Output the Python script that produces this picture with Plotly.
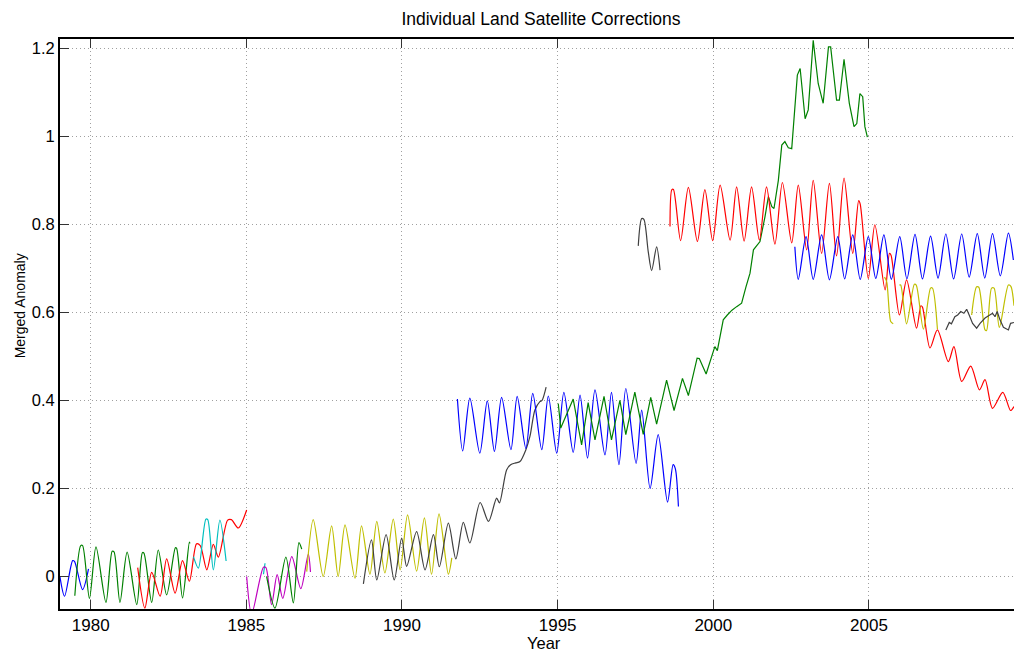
import plotly.graph_objects as go

# ---------------- data ----------------
blue1_x = [1979.01, 1979.16, 1979.42, 1979.48, 1979.74, 1979.93]
blue1_y = [0.0, -0.045, 0.036, 0.034, -0.03, 0.017]

green1_x = [1979.49, 1979.68, 1979.74, 1979.96, 1980.17, 1980.49, 1980.69, 1980.75, 1980.94,
            1981.17, 1981.48, 1981.66, 1981.71, 1981.96, 1982.17, 1982.44, 1982.72, 1982.76,
            1982.95, 1983.17, 1983.19]
green1_y = [-0.044, 0.07, 0.07, -0.05, 0.067, -0.059, 0.057, 0.056, -0.059,
            0.055, -0.064, 0.054, 0.053, -0.059, 0.06, -0.042, 0.065, 0.064,
            -0.049, 0.078, 0.075]

red1_x = [1981.51, 1981.74, 1981.96, 1982.23, 1982.44, 1982.71, 1982.95, 1983.17, 1983.40,
          1983.52, 1983.73, 1983.94, 1984.10, 1984.40, 1984.52, 1984.74, 1985.01]
red1_y = [0.02, -0.072, 0.009, -0.045, 0.04, -0.038, 0.036, -0.011, 0.074,
          0.07, 0.015, 0.073, 0.044, 0.128, 0.129, 0.11, 0.151]

cyan1_x = [1983.30, 1983.46, 1983.70, 1983.76, 1983.94, 1984.15, 1984.35, None, 1985.55, 1985.60]
cyan1_y = [0.045, 0.019, 0.13, 0.129, 0.015, 0.128, 0.035, None, 0.005, 0.03]

magenta_x = [1985.01, 1985.17, 1985.55, 1985.63, 1985.81, 1985.99, 1986.17, 1986.46,
             1986.75, 1986.99, 1987.06]
magenta_y = [0.0, -0.085, 0.021, 0.02, -0.064, 0.004, -0.05, 0.045,
             -0.028, 0.051, 0.01]

green2_x = [1985.65, 1985.92, 1986.27, 1986.51, 1986.69, 1986.78]
green2_y = [0.0, -0.072, 0.044, -0.06, 0.077, 0.062]

yellow1_x = [1986.94, 1987.15, 1987.47, 1987.74, 1987.95, 1988.17, 1988.49, 1988.70, 1988.97,
             1989.19, 1989.45, 1989.72, 1989.94, 1990.18, 1990.47, 1990.72, 1990.95, 1991.19,
             1991.49, 1991.60]
yellow1_y = [0.011, 0.129, 0.0, 0.115, 0.0, 0.117, -0.004, 0.115, 0.005,
             0.125, 0.008, 0.13, 0.015, 0.14, 0.012, 0.133, 0.005, 0.142,
             0.005, 0.042]

black1_x = [1988.76, 1989.02, 1989.19, 1989.49, 1989.75, 1989.99, 1990.15, 1990.47, 1990.74,
            1991.01, 1991.20, 1991.49, 1991.73, 1991.97, 1992.18, 1992.51, 1992.78, 1993.04,
            1993.13, 1993.36, 1993.49, 1993.65, 1993.79, 1993.98, 1994.11, 1994.27, 1994.43,
            1994.50, 1994.63]
black1_y = [-0.017, 0.083, -0.008, 0.095, -0.008, 0.087, 0.023, 0.102, 0.015,
            0.095, 0.022, 0.121, 0.04, 0.123, 0.076, 0.168, 0.125, 0.178,
            0.167, 0.242, 0.254, 0.258, 0.261, 0.288, 0.318, 0.378, 0.397,
            0.40, 0.43]

blue2_x = [1991.78, 1991.95, 1992.18, 1992.50, 1992.74, 1992.97, 1993.20, 1993.50, 1993.70,
           1993.98, 1994.20, 1994.49, 1994.70, 1994.97, 1995.20, 1995.50, 1995.72, 1995.96,
           1996.20, 1996.52, 1996.73, 1996.97, 1997.19, 1997.52, 1997.70, 1997.97, 1998.23,
           1998.53, 1998.71, 1998.78, 1998.88]
blue2_y = [0.403, 0.285, 0.405, 0.28, 0.399, 0.284, 0.407, 0.288, 0.409,
           0.291, 0.416, 0.288, 0.41, 0.28, 0.418, 0.282, 0.412, 0.269,
           0.424, 0.276, 0.418, 0.254, 0.427, 0.257, 0.378, 0.2, 0.322,
           0.169, 0.254, 0.245, 0.159]

green3_x = [1995.02, 1995.10, 1995.50, 1995.77, 1995.98, 1996.20, 1996.49, 1996.73, 1997.00,
            1997.19, 1997.48, 1997.75, 1997.99, 1998.18, 1998.50, 1998.74, 1999.01, 1999.20,
            1999.48, 1999.55, 1999.77, 2000.05, 2000.13, 2000.32, 2000.45, 2000.60, 2000.75,
            2000.91, 2001.05, 2001.18, 2001.29, 2001.50, 2001.66, 2001.77, 2001.88, 2001.95,
            2002.09, 2002.20, 2002.30, 2002.41, 2002.52, 2002.70, 2002.79, 2002.95, 2003.05,
            2003.21, 2003.37, 2003.53, 2003.70, 2003.77, 2003.96, 2004.05, 2004.20, 2004.37,
            2004.52, 2004.61, 2004.71, 2004.80, 2004.87, 2004.95]
green3_y = [0.393, 0.337, 0.403, 0.299, 0.395, 0.31, 0.409, 0.31, 0.40,
            0.322, 0.419, 0.323, 0.407, 0.346, 0.446, 0.377, 0.45, 0.411,
            0.496, 0.495, 0.46, 0.522, 0.513, 0.583, 0.594, 0.605, 0.613,
            0.621, 0.658, 0.689, 0.742, 0.761, 0.817, 0.863, 0.84, 0.836,
            0.9, 0.98, 0.988, 0.974, 0.972, 1.139, 1.154, 1.04, 1.06,
            1.218, 1.12, 1.075, 1.203, 1.203, 1.082, 1.082, 1.175, 1.075,
            1.022, 1.029, 1.097, 1.09, 1.022, 0.998]

black2_x = [1997.59, 1997.70, 1997.77, 1997.91, 1998.02, 1998.18, 1998.29]
black2_y = [0.751, 0.813, 0.811, 0.738, 0.695, 0.749, 0.696]

red2_x = [1998.61, 1998.67, 1998.72, 1998.95, 1999.20, 1999.49, 1999.73, 1999.98, 2000.22,
          2000.54, 2000.75, 2000.99, 2001.23, 2001.48, 2001.71, 2001.98, 2002.22, 2002.52,
          2002.73, 2003.00, 2003.21, 2003.48, 2003.73, 2003.96, 2004.20, 2004.48, 2004.67,
          2004.72, 2004.98, 2005.19, 2005.52, 2005.66, 2005.71, 2005.98, 2006.21, 2006.53,
          2006.67, 2006.72, 2006.96, 2007.20, 2007.55, 2007.73, 2007.98, 2008.27, 2008.55,
          2008.73, 2008.97, 2009.30, 2009.55, 2009.66]
red2_y = [0.795, 0.879, 0.879, 0.763, 0.884, 0.761, 0.879, 0.763, 0.889,
          0.764, 0.885, 0.762, 0.885, 0.764, 0.885, 0.755, 0.895, 0.758,
          0.889, 0.742, 0.9, 0.734, 0.893, 0.728, 0.905, 0.734, 0.854,
          0.846, 0.677, 0.799, 0.651, 0.734, 0.73, 0.594, 0.674, 0.564,
          0.615, 0.612, 0.519, 0.56, 0.488, 0.522, 0.443, 0.478, 0.424,
          0.447, 0.382, 0.418, 0.377, 0.386]

blue3_x = [2002.62, 2002.73, 2002.98, 2003.21, 2003.48, 2003.73, 2004.00, 2004.22, 2004.48,
           2004.72, 2004.98, 2005.22, 2005.48, 2005.72, 2005.99, 2006.22, 2006.48, 2006.72,
           2006.98, 2007.22, 2007.47, 2007.72, 2007.98, 2008.22, 2008.48, 2008.72, 2008.97,
           2009.22, 2009.48, 2009.64]
blue3_y = [0.749, 0.675, 0.772, 0.675, 0.776, 0.674, 0.772, 0.676, 0.776,
           0.675, 0.772, 0.677, 0.776, 0.675, 0.772, 0.676, 0.777, 0.676,
           0.773, 0.678, 0.778, 0.676, 0.778, 0.68, 0.779, 0.678, 0.779,
           0.683, 0.78, 0.719]

yellow2_x = [2005.50, 2005.57, 2005.70, 2005.78, None,
             2005.98, 2006.02, 2006.21, 2006.46, 2006.52, 2006.75, 2006.98, 2007.04, 2007.20, None,
             2008.30, 2008.46, 2008.53, 2008.73, 2008.78, 2008.94, 2009.02, 2009.19, 2009.48,
             2009.56, 2009.66]
yellow2_y = [0.68, 0.67, 0.579, 0.574, None,
             0.662, 0.662, 0.574, 0.664, 0.662, 0.562, 0.655, 0.655, 0.562, None,
             0.594, 0.658, 0.657, 0.56, 0.559, 0.655, 0.655, 0.566, 0.662,
             0.659, 0.615]

black3_x = [2007.47, 2007.58, 2007.65, 2007.76, 2007.85, 2007.95, 2008.05, 2008.14, 2008.22,
            2008.33, 2008.46, 2008.57, 2008.73, 2008.87, 2008.97, 2009.05, 2009.12, 2009.21,
            2009.32, 2009.48, 2009.55, 2009.66]
black3_y = [0.56, 0.577, 0.574, 0.59, 0.594, 0.602, 0.598, 0.607, 0.594,
            0.575, 0.564, 0.575, 0.587, 0.594, 0.598, 0.59, 0.602, 0.583,
            0.566, 0.56, 0.575, 0.577]

x_ticks = [1980, 1985, 1990, 1995, 2000, 2005]
y_ticks = [0, 0.2, 0.4, 0.6, 0.8, 1.0, 1.2]
y_tick_labels = ["0", "0.2", "0.4", "0.6", "0.8", "1", "1.2"]

# ---------------- styling ----------------
B, G, R, C, M, Y, K = "#0000FF", "#008000", "#FF0000", "#00BFBF", "#BF00BF", "#BFBF00", "#404040"

series = [
    (blue1_x, blue1_y, B, "spline"),
    (green1_x, green1_y, G, "spline"),
    (red1_x, red1_y, R, "spline"),
    (cyan1_x, cyan1_y, C, "spline"),
    (magenta_x, magenta_y, M, "spline"),
    (green2_x, green2_y, G, "spline"),
    (yellow1_x, yellow1_y, Y, "spline"),
    (black1_x, black1_y, K, "spline"),
    (blue2_x, blue2_y, B, "spline"),
    (green3_x, green3_y, G, "linear"),
    (black2_x, black2_y, K, "spline"),
    (red2_x, red2_y, R, "spline"),
    (blue3_x, blue3_y, B, "spline"),
    (yellow2_x, yellow2_y, Y, "spline"),
    (black3_x, black3_y, K, "linear"),
]

fig = go.Figure()
for xs, ys, col, shape in series:
    fig.add_trace(go.Scatter(
        x=xs, y=ys, mode="lines",
        line=dict(color=col, width=1.2, shape=shape, smoothing=0.8),
        connectgaps=False, hoverinfo="skip", showlegend=False))

FONT = "Liberation Sans, Arial, Helvetica, sans-serif"

fig.update_layout(
    width=1014, height=654,
    margin=dict(l=60, r=0, t=39, b=45),
    paper_bgcolor="white", plot_bgcolor="white",
    font=dict(family=FONT, size=16, color="black"),
    showlegend=False,
    title=dict(text="Individual Land Satellite Corrections",
               x=541 / 1014, xref="container", xanchor="center",
               y=1 - 19 / 654, yref="container", yanchor="middle",
               font=dict(family=FONT, size=17.5, color="black")),
    xaxis=dict(range=[1979.014, 2009.66], tickvals=x_ticks,
               ticktext=[str(v) for v in x_ticks],
               showline=True, linecolor="black", linewidth=1.8, mirror="ticks",
               ticks="inside", ticklen=9, tickwidth=1, tickcolor="#333",
               showgrid=True, gridcolor="#a0a0a0", griddash="1px,3px", gridwidth=1,
               zeroline=False, tickfont=dict(size=17), ticklabelstandoff=0),
    yaxis=dict(range=[-0.074, 1.2211], tickvals=y_ticks, ticktext=y_tick_labels,
               showline=True, linecolor="black", linewidth=1.8, mirror=False,
               ticks="inside", ticklen=9, tickwidth=1, tickcolor="#333",
               showgrid=True, gridcolor="#a0a0a0", griddash="1px,3px", gridwidth=1,
               zeroline=False, tickfont=dict(size=16.5)),
    annotations=[
        dict(text="Year", xref="paper", yref="paper", x=(543.5 - 60) / 954,
             y=(609.3 - 643) / 570.3, xanchor="center", yanchor="middle",
             showarrow=False, font=dict(family=FONT, size=16.5)),
        dict(text="Merged Anomaly", xref="paper", yref="paper", x=(20 - 60) / 954,
             y=(609.3 - 306.5) / 570.3, xanchor="center", yanchor="middle",
             textangle=-90, showarrow=False, font=dict(family=FONT, size=14)),
    ],
)

fig.write_html("out.html")
